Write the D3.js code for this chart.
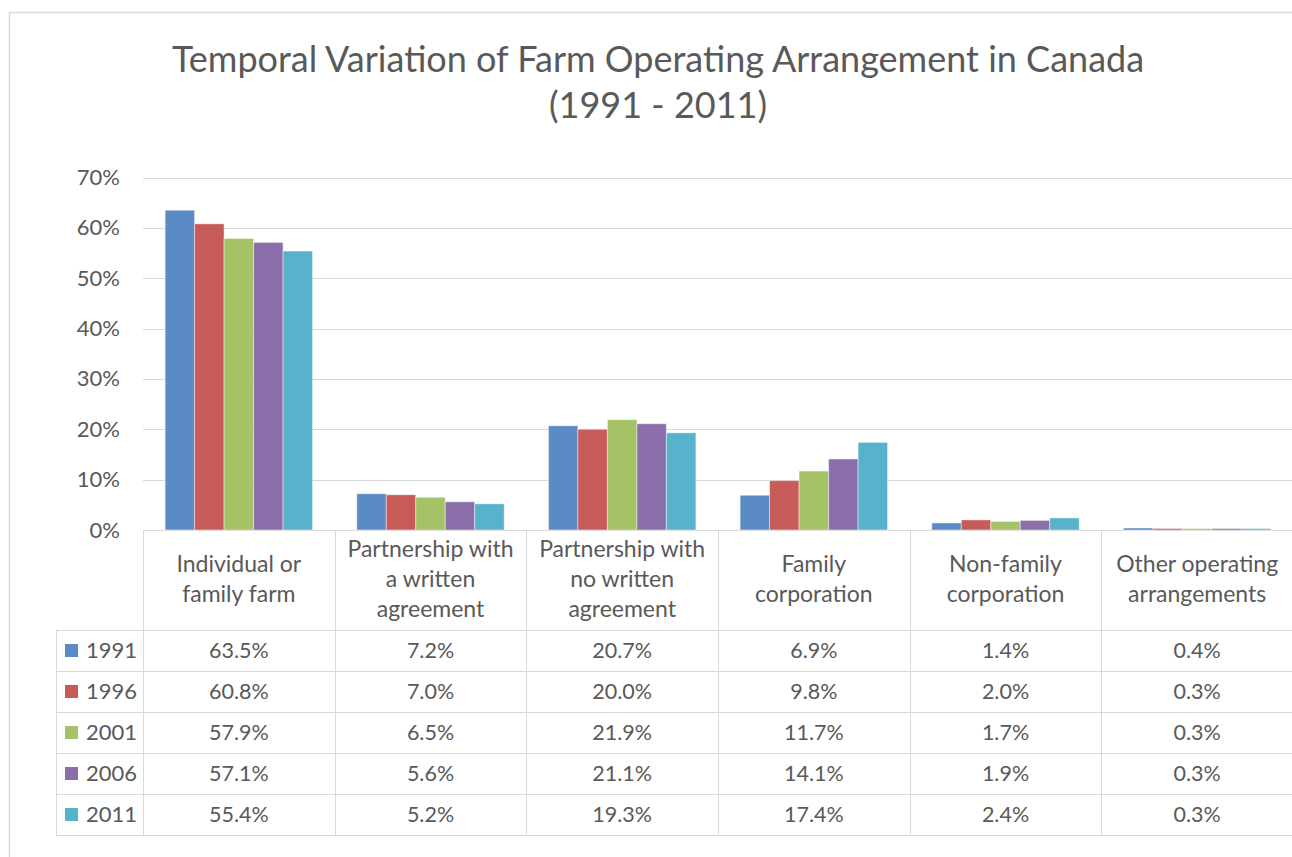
<!DOCTYPE html>
<html>
<head>
<meta charset="utf-8">
<script src="https://cdn.jsdelivr.net/npm/d3@7"></script>
<style>
  html, body { margin: 0; padding: 0; background: #fff; }
  svg { display: block; }
  text { font-family: Lato, "Open Sans", sans-serif; fill: #595959; }
</style>
</head>
<body>
<svg id="chart" width="1292" height="857"></svg>
<script>
// ---------- data ----------
const titleLines = ["Temporal Variation of Farm Operating Arrangement in Canada", "(1991 - 2011)"];
const categories = [
  "Individual or family farm",
  "Partnership with a written agreement",
  "Partnership with no written agreement",
  "Family corporation",
  "Non-family corporation",
  "Other operating arrangements"
];
const categoryLines = [
  ["Individual or", "family farm"],
  ["Partnership with", "a written", "agreement"],
  ["Partnership with", "no written", "agreement"],
  ["Family", "corporation"],
  ["Non-family", "corporation"],
  ["Other operating", "arrangements"]
];
const years = ["1991", "1996", "2001", "2006", "2011"];
const v1991 = [63.5, 7.2, 20.7, 6.9, 1.4, 0.4];
const v1996 = [60.8, 7.0, 20.0, 9.8, 2.0, 0.3];
const v2001 = [57.9, 6.5, 21.9, 11.7, 1.7, 0.3];
const v2006 = [57.1, 5.6, 21.1, 14.1, 1.9, 0.3];
const v2011 = [55.4, 5.2, 19.3, 17.4, 2.4, 0.3];
const seriesValues = [v1991, v1996, v2001, v2006, v2011];
const colors = ["#5B8BC4", "#C65B58", "#A5C266", "#8B6FAB", "#57B3CC"];
const yTicks = [0, 10, 20, 30, 40, 50, 60, 70];

// ---------- layout ----------
const svg = d3.select("#chart");
const plotLeft = 143, plotRight = 1293, plotTop = 177.5, plotBottom = 530;
const headerBottom = 630, rowH = 41, legendLeft = 56;
const gridColor = "#D9D9D9";

// outer chart border
svg.append("rect")
  .attr("x", 9.5).attr("y", 12.5).attr("width", 1400).attr("height", 1000)
  .attr("fill", "none").attr("stroke", "#D9D9D9").attr("stroke-width", 1.5);

// title
svg.append("g").selectAll("text").data(titleLines).join("text")
  .attr("x", 658).attr("y", (d, i) => 72 + i * 46)
  .attr("text-anchor", "middle")
  .style("font-size", "36px")
  .text(d => d);

const x = d3.scaleBand().domain(categories).range([plotLeft, plotRight]).padding(0);
const bw = x.bandwidth();
const barW = bw / (years.length + 1.5);
const xs = d3.scaleBand().domain(years)
  .range([0.75 * barW, 0.75 * barW + barW * years.length]).padding(0);
const y = d3.scaleLinear().domain([0, 70]).range([plotBottom, plotTop]);

// gridlines
svg.append("g").selectAll("line").data(yTicks).join("line")
  .attr("x1", plotLeft).attr("x2", plotRight)
  .attr("y1", d => Math.round(y(d)) + 0.5).attr("y2", d => Math.round(y(d)) + 0.5)
  .attr("stroke", gridColor).attr("stroke-width", 1);

// y axis labels
const yAxis = d3.axisLeft(y).tickValues(yTicks).tickFormat(d => d + "%").tickSize(0).tickPadding(0);
const yg = svg.append("g").attr("transform", `translate(120,0)`).call(yAxis);
yg.select(".domain").remove();
yg.selectAll("text").style("font-size", "22px").attr("fill", "#595959")
  .style("font-family", "Lato, 'Open Sans', sans-serif");

// bars
const groups = svg.append("g").selectAll("g").data(categories).join("g")
  .attr("transform", c => `translate(${x(c)},0)`);
groups.selectAll("rect").data((c, ci) => years.map((yr, si) => ({yr, si, v: seriesValues[si][ci]})))
  .join("rect")
  .attr("x", d => xs(d.yr))
  .attr("width", xs.bandwidth())
  .attr("y", d => y(d.v))
  .attr("height", d => plotBottom - y(d.v))
  .attr("fill", d => colors[d.si])
  .attr("stroke", "#ffffff").attr("stroke-opacity", 0.45).attr("stroke-width", 1);

// ---------- data table ----------
const tableBottom = headerBottom + rowH * years.length;
const tg = svg.append("g");
// vertical lines
const vx = categories.map(c => x(c)).concat([plotRight]);
tg.selectAll("line.v").data(vx).join("line").attr("class", "v")
  .attr("x1", d => Math.round(d) + 0.5).attr("x2", d => Math.round(d) + 0.5)
  .attr("y1", plotBottom).attr("y2", tableBottom)
  .attr("stroke", gridColor);
tg.append("line")
  .attr("x1", legendLeft + 0.5).attr("x2", legendLeft + 0.5)
  .attr("y1", headerBottom).attr("y2", tableBottom).attr("stroke", gridColor);
// horizontal lines
const hy = d3.range(years.length + 1).map(i => headerBottom + i * rowH);
tg.selectAll("line.h").data(hy).join("line").attr("class", "h")
  .attr("x1", legendLeft).attr("x2", plotRight)
  .attr("y1", d => Math.round(d) + 0.5).attr("y2", d => Math.round(d) + 0.5)
  .attr("stroke", gridColor);

// category header text
const hdr = tg.append("g").selectAll("text").data(categories).join("text")
  .attr("x", c => x(c) + bw / 2)
  .attr("text-anchor", "middle")
  .style("font-size", "23px");
hdr.each(function(c, ci) {
  const lines = categoryLines[ci];
  const n = lines.length;
  d3.select(this).selectAll("tspan").data(lines).join("tspan")
    .attr("x", x(c) + bw / 2)
    .attr("y", (d, i) => 587 + (i - (n - 1) / 2) * 30)
    .text(d => d);
});

// legend cells
const rowsG = tg.append("g").selectAll("g").data(years).join("g")
  .attr("transform", (d, i) => `translate(0,${headerBottom + i * rowH + rowH / 2})`);
rowsG.append("rect")
  .attr("x", 65).attr("y", -6.5).attr("width", 13).attr("height", 13)
  .attr("fill", (d, i) => colors[i]);
rowsG.append("text")
  .attr("x", 86).attr("dy", "0.36em")
  .style("font-size", "22px")
  .text(d => d);
// value cells
rowsG.selectAll("text.val").data((yr, si) => categories.map((c, ci) => ({c, v: seriesValues[si][ci]})))
  .join("text").attr("class", "val")
  .attr("x", d => x(d.c) + bw / 2).attr("dy", "0.36em")
  .attr("text-anchor", "middle")
  .style("font-size", "21.5px")
  .text(d => d.v.toFixed(1) + "%");
</script>
</body>
</html>
